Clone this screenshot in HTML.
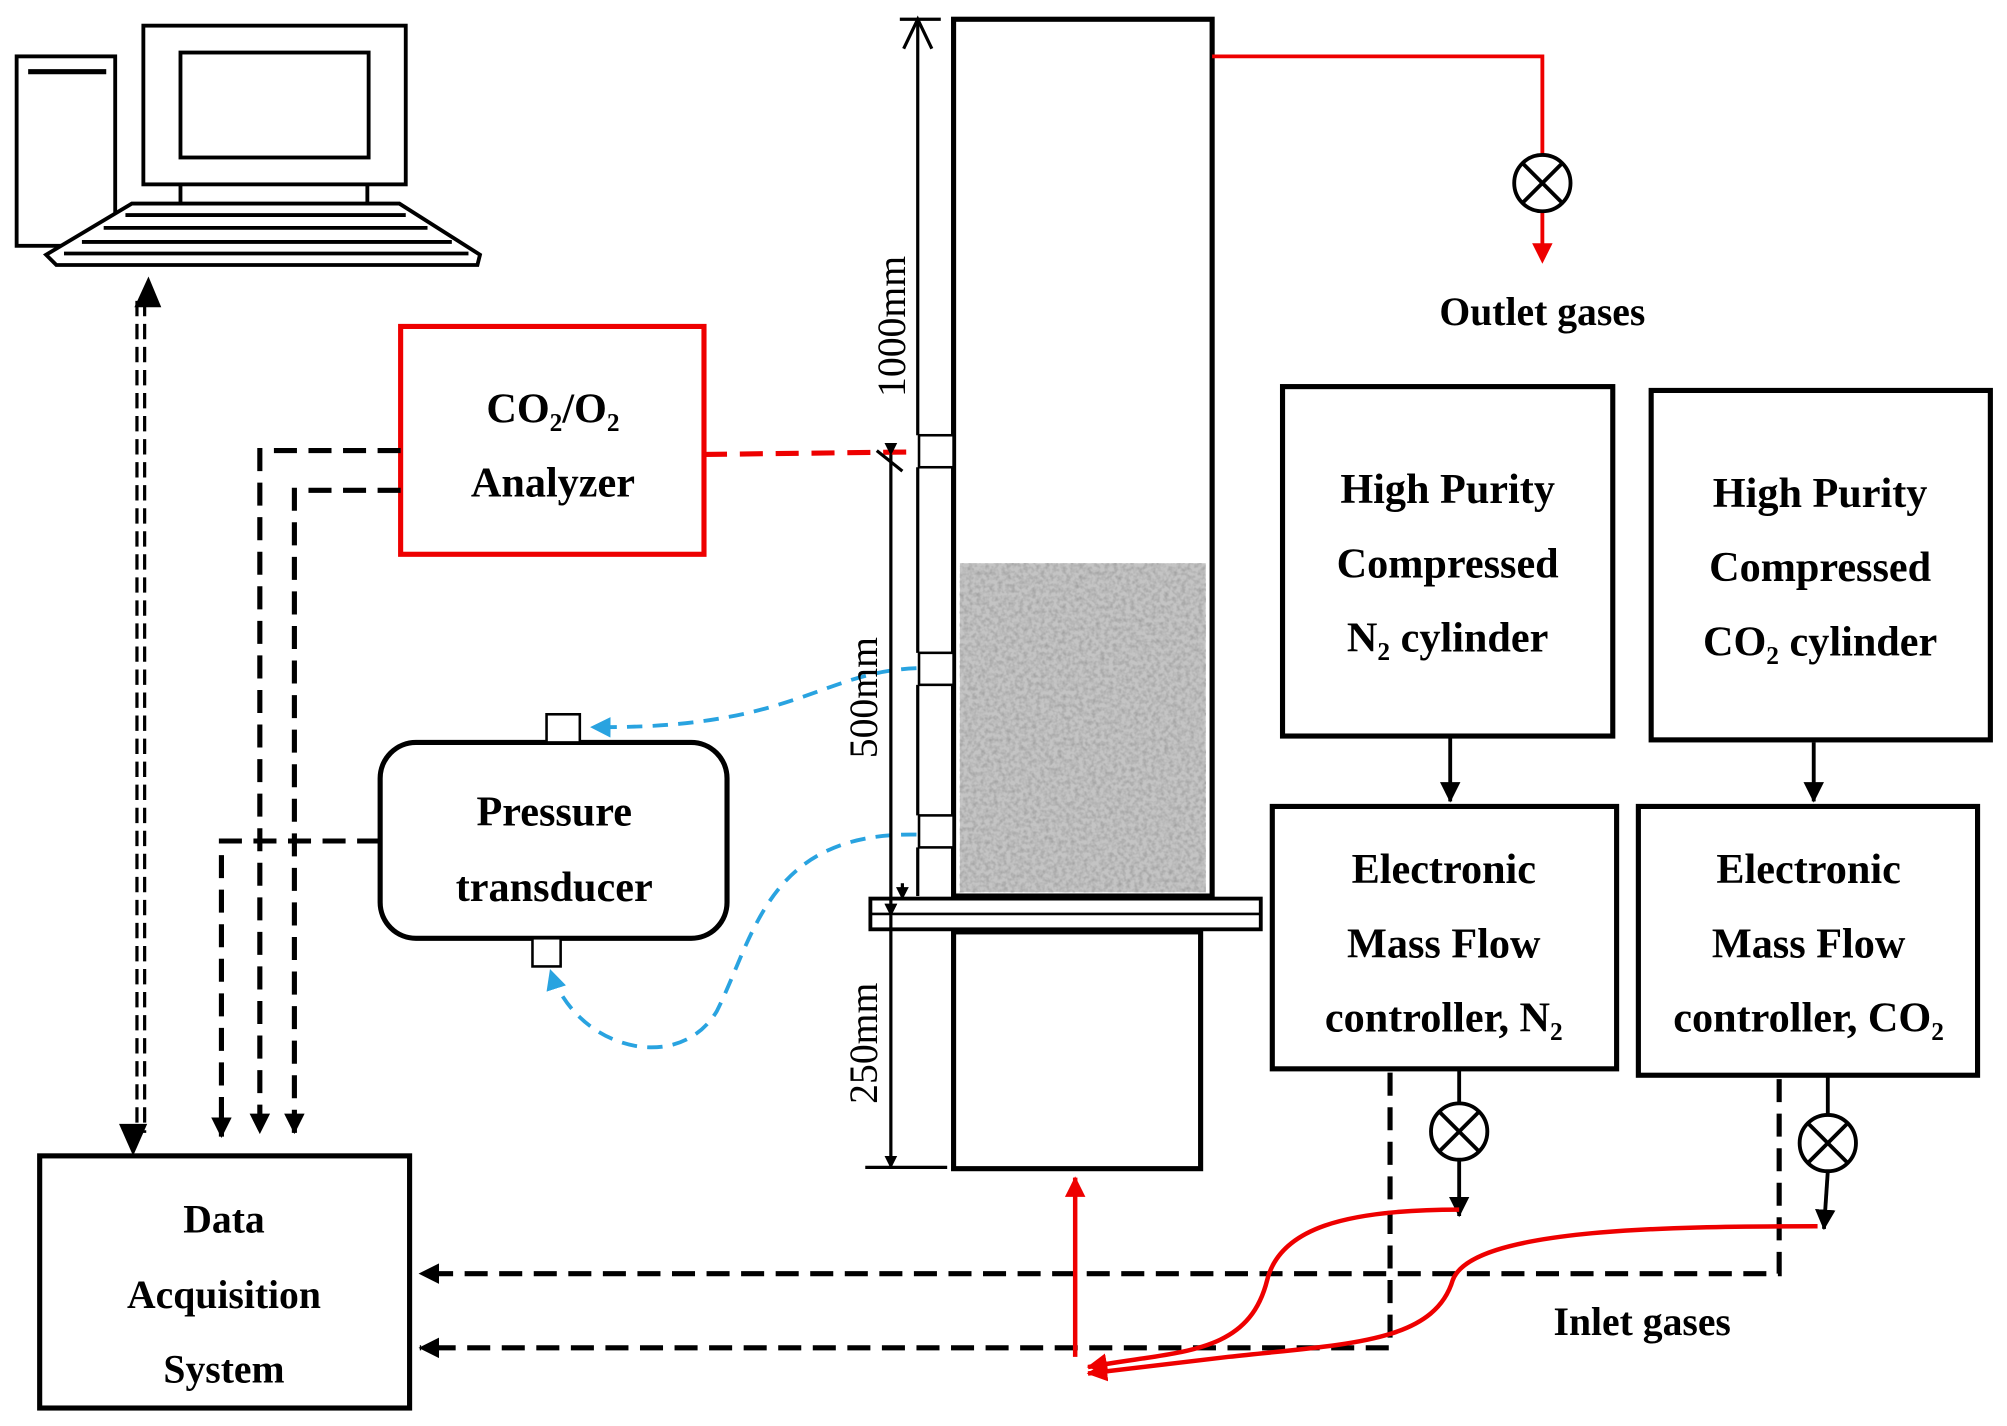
<!DOCTYPE html>
<html><head><meta charset="utf-8"><style>
html,body{margin:0;padding:0;background:#fff;}
svg{display:block}
text{font-family:"Liberation Serif",serif;font-weight:bold;fill:#000;}
</style></head><body>
<svg width="2007" height="1426" viewBox="0 0 1568 1114" xmlns="http://www.w3.org/2000/svg">
<defs>
<marker id="ab" markerWidth="10" markerHeight="10" refX="9" refY="5" orient="auto" markerUnits="userSpaceOnUse" viewBox="0 0 10 10"><path d="M0,0 L10,5 L0,10z" fill="#000"/></marker>
<marker id="ab2" markerWidth="16" markerHeight="16" refX="15" refY="8" orient="auto" markerUnits="userSpaceOnUse" viewBox="0 0 16 16"><path d="M0,0 L16,8 L0,16z" fill="#000"/></marker>
<marker id="ar" markerWidth="16" markerHeight="16" refX="15" refY="8" orient="auto" markerUnits="userSpaceOnUse" viewBox="0 0 16 16"><path d="M0,0 L16,8 L0,16z" fill="#e00"/></marker>
<marker id="abl" markerWidth="16" markerHeight="16" refX="15" refY="8" orient="auto" markerUnits="userSpaceOnUse" viewBox="0 0 16 16"><path d="M0,0 L16,8 L0,16z" fill="#29a3e0"/></marker>
<filter id="noise" x="0" y="0" width="1" height="1"><feTurbulence type="fractalNoise" baseFrequency="0.3" numOctaves="2" seed="3"/><feColorMatrix type="matrix" values="0 0 0 0 0.35  0 0 0 0 0.35  0 0 0 0 0.35  0 0 0 -1.8 1.15"/></filter>
</defs>
<g fill="none" stroke="#000" stroke-width="3">
<!-- computer -->
<rect x="13" y="44" width="77" height="148" stroke-width="3"/>
<line x1="22" y1="56" x2="83" y2="56" stroke-width="4"/>
<rect x="112" y="20" width="205" height="124" stroke-width="3"/>
<rect x="141" y="41" width="147" height="82" stroke-width="3"/>
<line x1="141" y1="144" x2="141" y2="159"/><line x1="287" y1="144" x2="287" y2="159"/>
<path d="M103,159 L312,159 L375,199 L373,207 L44,207 L36,199z" fill="#fff" stroke-width="3"/>
<line x1="98" y1="168" x2="317" y2="168" stroke-width="3"/>
<line x1="81" y1="178" x2="334" y2="178" stroke-width="3"/>
<line x1="64" y1="189" x2="353" y2="189" stroke-width="3"/>
<line x1="50" y1="198" x2="366" y2="198" stroke-width="3"/>
</g>
<!-- computer <-> DAQ -->
<g stroke="#000" stroke-width="2.5" stroke-dasharray="12,6" fill="none">
<line x1="107" y1="235" x2="107" y2="885"/><line x1="113" y1="235" x2="113" y2="885"/>
</g>
<path d="M116,216 L105,240 L126,240z"/><path d="M104,903 L93,878 L115,878z"/>
<!-- DAQ -->
<rect x="31" y="903" width="289" height="197" fill="none" stroke="#000" stroke-width="4"/>
<text x="175" y="963" font-size="31" text-anchor="middle">Data</text>
<text x="175" y="1022" font-size="31" text-anchor="middle">Acquisition</text>
<text x="175" y="1080" font-size="31" text-anchor="middle">System</text>
<!-- Analyzer -->
<rect x="313" y="255" width="237" height="178" fill="none" stroke="#e00" stroke-width="4"/>
<text x="432" y="330" font-size="33" text-anchor="middle">CO₂/O₂</text>
<text x="432" y="388" font-size="33" text-anchor="middle">Analyzer</text>
<line x1="550" y1="355" x2="716" y2="353" stroke="#e00" stroke-width="4" stroke-dasharray="18,10"/>
<g stroke="#000" stroke-width="4" stroke-dasharray="18,9" fill="none">
<path d="M313,352 L203,352 L203,885" marker-end="url(#ab2)"/>
<path d="M313,383 L230,383 L230,885" marker-end="url(#ab2)"/>
<path d="M297,657 L173,657 L173,888" marker-end="url(#ab2)"/>
<path d="M1086,838 L1086,1053 L328,1053" marker-end="url(#ab2)"/>
<path d="M1390,843 L1390,995 L328,995" marker-end="url(#ab2)"/>
</g>
<!-- Pressure transducer -->
<rect x="297" y="580" width="271" height="153" rx="28" fill="none" stroke="#000" stroke-width="4"/>
<rect x="427" y="558" width="26" height="22" fill="#fff" stroke="#000" stroke-width="2"/>
<rect x="416" y="733" width="22" height="22" fill="#fff" stroke="#000" stroke-width="2"/>
<text x="433" y="645" font-size="33" text-anchor="middle">Pressure</text>
<text x="433" y="704" font-size="33" text-anchor="middle">transducer</text>
<g stroke="#29a3e0" stroke-width="3" stroke-dasharray="12,8" fill="none">
<path d="M716,522 C640,525 620,570 462,568" marker-end="url(#abl)"/>
<path d="M716,652 C600,650 590,730 560,790 C530,840 450,820 430,758" marker-end="url(#abl)"/>
</g>
<!-- column -->
<rect x="745" y="15" width="202" height="685" fill="#fff" stroke="#000" stroke-width="4"/>
<rect x="750" y="440" width="192" height="257" fill="#c4c4c4"/>
<rect x="750" y="440" width="192" height="257" filter="url(#noise)"/>
<rect x="680" y="702" width="305" height="24" fill="#fff" stroke="#000" stroke-width="3"/>
<line x1="680" y1="714" x2="985" y2="714" stroke="#000" stroke-width="2"/>
<rect x="745" y="728" width="193" height="185" fill="#fff" stroke="#000" stroke-width="4"/>
<g fill="#fff" stroke="#000" stroke-width="2">
<rect x="718" y="340" width="27" height="25"/><rect x="718" y="510" width="27" height="25"/><rect x="718" y="637" width="27" height="25"/>
</g>
<g stroke="#000" stroke-width="2.5" fill="none">
<line x1="717" y1="15" x2="717" y2="340"/><line x1="717" y1="365" x2="717" y2="510"/><line x1="717" y1="535" x2="717" y2="637"/><line x1="717" y1="662" x2="717" y2="700"/>
<path d="M706,38 L717,15 L728,38"/><path d="M685,352 L705,368"/>
<line x1="703" y1="15" x2="735" y2="15"/>
<line x1="696" y1="355" x2="696" y2="715" marker-start="url(#ab)" marker-end="url(#ab)"/>
<line x1="696" y1="715" x2="696" y2="912" marker-start="url(#ab)" marker-end="url(#ab)"/>
<line x1="676" y1="912" x2="740" y2="912"/>
<line x1="705" y1="690" x2="705" y2="702" marker-end="url(#ab)"/>
</g>
<text transform="translate(707,255) rotate(-90)" font-size="31" text-anchor="middle" style="font-weight:normal">1000mm</text>
<text transform="translate(685,545) rotate(-90)" font-size="31" text-anchor="middle" style="font-weight:normal">500mm</text>
<text transform="translate(685,815) rotate(-90)" font-size="31" text-anchor="middle" style="font-weight:normal">250mm</text>
<!-- outlet -->
<path d="M947,44 L1205,44 L1205,121 M1205,165 L1205,200" stroke="#e00" stroke-width="3" fill="none"/>
<path d="M1205,206 L1197,190 L1213,190z" fill="#e00"/>
<circle cx="1205" cy="143" r="22" fill="#fff" stroke="#000" stroke-width="3"/>
<path d="M1190,128 L1220,158 M1220,128 L1190,158" stroke="#000" stroke-width="3"/>
<text x="1205" y="254" font-size="31" text-anchor="middle">Outlet gases</text>
<!-- cylinders -->
<g fill="none" stroke="#000" stroke-width="4">
<rect x="1002" y="302" width="258" height="273"/>
<rect x="1290" y="305" width="265" height="273"/>
<rect x="994" y="630" width="269" height="205"/>
<rect x="1280" y="630" width="265" height="210"/>
</g>
<g font-size="33" text-anchor="middle">
<text x="1131" y="393">High Purity</text><text x="1131" y="451">Compressed</text><text x="1131" y="509">N₂ cylinder</text>
<text x="1422" y="396">High Purity</text><text x="1422" y="454">Compressed</text><text x="1422" y="512">CO₂ cylinder</text>
<text x="1128" y="690">Electronic</text><text x="1128" y="748">Mass Flow</text><text x="1128" y="806">controller, N₂</text>
<text x="1413" y="690">Electronic</text><text x="1413" y="748">Mass Flow</text><text x="1413" y="806">controller, CO₂</text>
</g>
<g stroke="#000" stroke-width="3" fill="none">
<line x1="1133" y1="575" x2="1133" y2="626" marker-end="url(#ab2)"/>
<line x1="1417" y1="580" x2="1417" y2="626" marker-end="url(#ab2)"/>
<line x1="1140" y1="835" x2="1140" y2="862"/><line x1="1140" y1="906" x2="1140" y2="950" marker-end="url(#ab2)"/>
<line x1="1428" y1="840" x2="1428" y2="871"/><line x1="1428" y1="915" x2="1425" y2="960" marker-end="url(#ab2)"/>
</g>
<circle cx="1140" cy="884" r="22" fill="#fff" stroke="#000" stroke-width="3"/>
<path d="M1125,869 L1155,899 M1155,869 L1125,899" stroke="#000" stroke-width="3"/>
<circle cx="1428" cy="893" r="22" fill="#fff" stroke="#000" stroke-width="3"/>
<path d="M1413,878 L1443,908 M1443,878 L1413,908" stroke="#000" stroke-width="3"/>
<!-- red inlet -->
<g stroke="#e00" stroke-width="3.5" fill="none">
<path d="M1140,945 C1050,945 1000,960 990,1000 C975,1060 920,1055 850,1068" marker-end="url(#ar)"/>
<path d="M1420,958 C1300,958 1150,960 1135,1000 C1120,1050 1050,1050 960,1060 L850,1073" marker-end="url(#ar)"/>
<line x1="840" y1="1060" x2="840" y2="920" marker-end="url(#ar)"/>
</g>
<text x="1283" y="1043" font-size="31" text-anchor="middle">Inlet gases</text>
</svg>
</body></html>
